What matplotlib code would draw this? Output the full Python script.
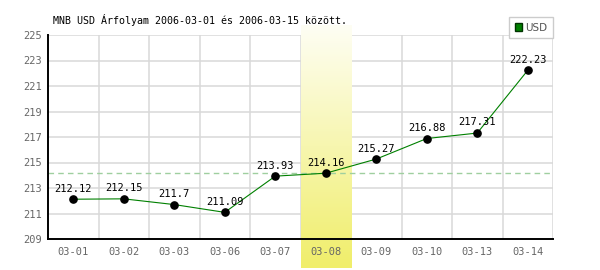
"""
MNB USD exchange rate chart, 2006-03-01 .. 2006-03-15.
"""

import matplotlib

matplotlib.use("Agg")
import matplotlib.pyplot as plt
import matplotlib.transforms as mtransforms
import numpy as np
from matplotlib.colors import LinearSegmentedColormap
from matplotlib.patches import Patch

# Data
dates = ["03-01", "03-02", "03-03", "03-06", "03-07", "03-08", "03-09", "03-10", "03-13", "03-14"]
usd_rates = [212.12, 212.15, 211.7, 211.09, 213.93, 214.16, 215.27, 216.88, 217.31, 222.23]
value_labels = ["212.12", "212.15", "211.7", "211.09", "213.93", "214.16", "215.27", "216.88", "217.31", "222.23"]
highlight_index = 5
ref_level = 214.16
y_ticks = [209, 211, 213, 215, 217, 219, 221, 223, 225]
title = "MNB USD Árfolyam 2006-03-01 és 2006-03-15 között."

MONO = "DejaVu Sans Mono"
GRID = "#d9d9d9"
TICK_GRAY = "#666666"

fig = plt.figure(figsize=(6, 2.7), dpi=100)
ax = fig.add_axes([48 / 600, 31 / 270, 505 / 600, 204 / 270])

x = np.arange(len(dates))

# Highlighted day: vertical yellow gradient band, extends past the axes
gradient = np.linspace(0, 1, 256).reshape(-1, 1)
band_cmap = LinearSegmentedColormap.from_list("band", ["#fefef4", "#f0ee6a"])
trans = mtransforms.blended_transform_factory(ax.transData, ax.transAxes)
ax.imshow(
    gradient,
    cmap=band_cmap,
    aspect="auto",
    origin="upper",
    extent=(highlight_index - 0.5, highlight_index + 0.5, -0.142, 1.045),
    transform=trans,
    clip_on=False,
    zorder=1,
)

# Grid: horizontal at y ticks, vertical between categories
for yv in y_ticks:
    ax.axhline(yv, color=GRID, linewidth=1.1, zorder=0)
for xv in np.arange(len(dates) + 1) - 0.5:
    ax.axvline(xv, color=GRID, linewidth=1.1, zorder=0)

ax.axhline(ref_level, color="#9fcf9f", linewidth=1, linestyle=(0, (4, 3)), zorder=2)

ax.plot(x, usd_rates, color="#008000", linewidth=0.8, zorder=3)
ax.plot(x, usd_rates, linestyle="none", marker="o", markersize=5.2, color="black", zorder=4)

for xi, yi, label in zip(x, usd_rates, value_labels):
    ax.annotate(
        label,
        (xi, yi),
        xytext=(0, 4),
        textcoords="offset points",
        ha="center",
        va="bottom",
        fontsize=7.5,
        family=MONO,
        color="black",
        zorder=5,
    )

ax.set_xlim(-0.5, len(dates) - 0.5)
ax.set_ylim(209, 225)
ax.set_xticks(x)
ax.set_xticklabels(dates)
ax.set_yticks(y_ticks)
for lbl in ax.get_xticklabels() + ax.get_yticklabels():
    lbl.set_family(MONO)
    lbl.set_fontsize(7.5)
    lbl.set_color(TICK_GRAY)
ax.tick_params(length=0, pad=6)
ax.tick_params(axis="y", pad=4)

for side in ("top", "right"):
    ax.spines[side].set_visible(False)
for side in ("left", "bottom"):
    ax.spines[side].set_color("black")
    ax.spines[side].set_linewidth(1.4)
    ax.spines[side].set_zorder(6)

fig.text(53 / 600, 1 - 20 / 270, title, family=MONO, fontsize=7.2, va="center", ha="left")

legend_elements = [Patch(facecolor="#008000", edgecolor="#003300", label="USD")]
leg = fig.legend(
    handles=legend_elements,
    loc="upper right",
    bbox_to_anchor=(553 / 600, 1 - 17 / 270),
    bbox_transform=fig.transFigure,
    fancybox=False,
    framealpha=1,
    edgecolor="#cccccc",
    fontsize=7.5,
    handlelength=0.7,
    handleheight=0.7,
    handletextpad=0.3,
    borderpad=0.55,
    borderaxespad=0,
)
leg.get_frame().set_linewidth(1)
leg.set_zorder(10)
for t in leg.get_texts():
    t.set_color("#555555")

fig.savefig("out.png", dpi=100, facecolor="white")
